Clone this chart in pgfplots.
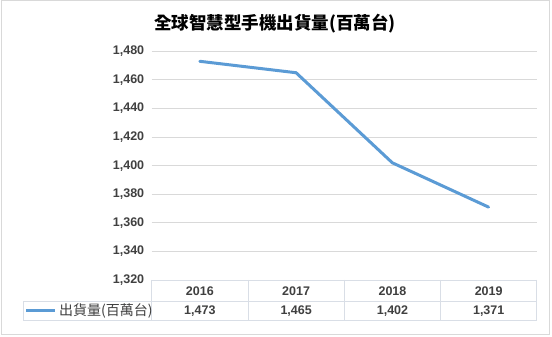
\documentclass[border=0pt]{standalone}
\usepackage{pgfplots}
\pgfplotsset{compat=1.18}
\usepackage{fontspec}
\setmainfont{Liberation Sans}
\newfontfamily\cjk{Noto Sans CJK TC}
\definecolor{linecol}{HTML}{5B9BD5}
\definecolor{gridcol}{HTML}{D9D9D9}
\definecolor{tabcol}{HTML}{D9DEE6}
\definecolor{txtcol}{HTML}{404040}
\begin{document}
\begin{tikzpicture}[x=1pt,y=1pt]
\fill[white] (0,0) rectangle (552,337);
\draw[gridcol, line width=1pt] (1,2) rectangle (549,336);
\node[font=\cjk\bfseries\fontsize{17.5}{17.5}\selectfont, text=black] at (275,313) {全球智慧型手機出貨量(百萬台)};
\begin{axis}[
  at={(151.7pt,57pt)}, anchor=south west,
  scale only axis, width=385pt, height=228.7pt,
  xmin=-0.5, xmax=3.5, ymin=1320, ymax=1480,
  ytick={1320,1340,...,1480}, xtick=\empty,
  axis line style={draw=none},
  major tick length=0pt,
  ymajorgrids, grid style={gridcol, line width=0.8pt},
  /pgf/number format/assume math mode=true,
  /pgf/number format/1000 sep={,},
  yticklabel style={font=\bfseries\fontsize{12.5}{12.5}\selectfont, text=txtcol, xshift=-4pt},
  clip=false,
]
\addplot[linecol, line width=3pt, line cap=round, line join=round] coordinates {(0,1473) (1,1465) (2,1402) (3,1371)};
\end{axis}
% data table
\begin{scope}[tabcol, line width=0.8pt]
\draw (151.7,57) -- (536.7,57);
\draw (23.3,35.3) -- (536.7,35.3);
\draw (23.3,17) -- (536.7,17);
\draw (23.3,35.3) -- (23.3,17);
\foreach \x in {151.7,248,344.3,440.7,536.7} \draw (\x,57) -- (\x,17);
\end{scope}
\begin{scope}[font=\bfseries\fontsize{12.5}{12.5}\selectfont, text=txtcol]
\node at (199.85,46.2) {2016};
\node at (296.15,46.2) {2017};
\node at (392.5,46.2) {2018};
\node at (488.7,46.2) {2019};
\node at (199.85,26.1) {1,473};
\node at (296.15,26.1) {1,465};
\node at (392.5,26.1) {1,402};
\node at (488.7,26.1) {1,371};
\end{scope}
\draw[linecol, line width=3pt] (26,26) -- (55,26);
\node[anchor=west, inner sep=0pt, font=\cjk\fontsize{14}{14}\selectfont, text=txtcol] at (59,26.5) {出貨量(百萬台)};
\end{tikzpicture}
\end{document}
